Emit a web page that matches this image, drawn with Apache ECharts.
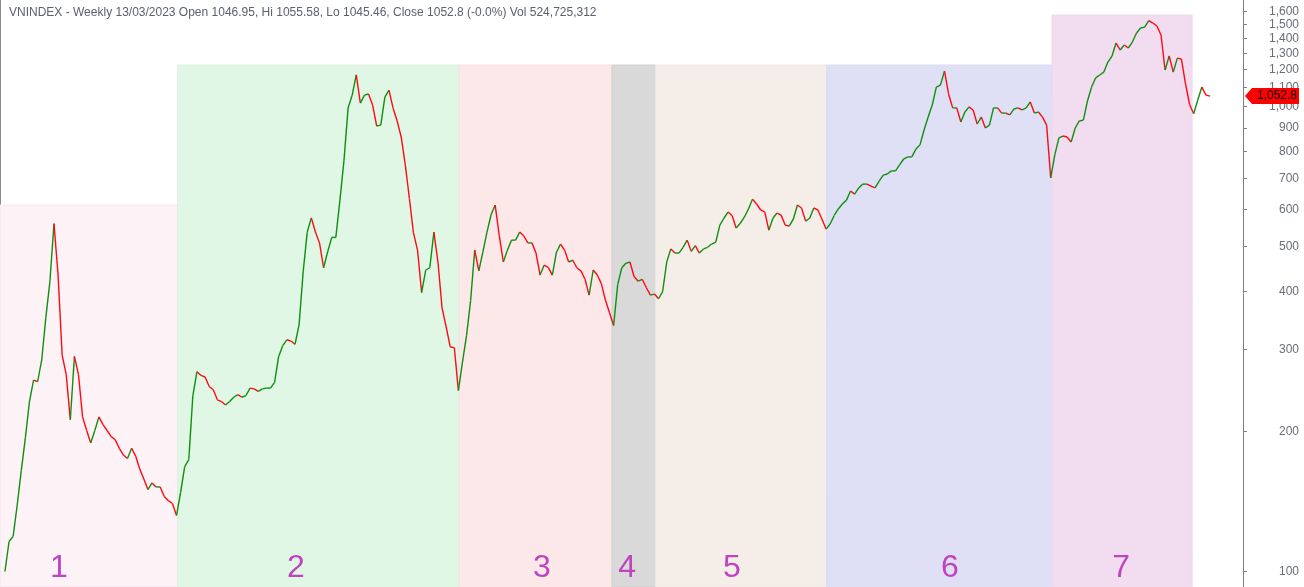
<!DOCTYPE html>
<html>
<head>
<meta charset="utf-8">
<title>VNINDEX weekly</title>
<script src="https://cdn.jsdelivr.net/npm/echarts@6/dist/echarts.min.js"></script>
<style>
	html, body { margin: 0; padding: 0; background: #fff; }
	#chart { width: 1304px; height: 587px; }
</style>
</head>
<body>
<div id="chart"></div>
<script>
// weekly closes, one point every 4 weeks, from 31/07/2000 to 13/03/2023
const startDate = '2000-07-31';
const stepDays = 28;
const closes = [
	100, 116, 119, 139, 165, 194, 232, 258, 256, 285,
	351, 420, 560, 434, 292, 265, 212, 290, 265, 215,
	201, 189, 201, 215, 207, 201, 195, 192, 184, 178,
	175, 184, 177, 166, 158, 150, 155, 152, 152, 145,
	142, 140, 132, 148, 168, 174, 239, 269, 264, 262,
	250, 246, 234, 232, 228, 232, 237, 240, 237, 239,
	248, 247, 244, 247, 248, 248, 255, 290, 306, 315,
	313, 308, 339, 441, 537, 576, 537, 509, 450, 487,
	523, 523, 629, 767, 993, 1058, 1170, 1017, 1058, 1064,
	1007, 908, 912, 1048, 1085, 993, 931, 860, 749, 635,
	535, 491, 398, 445, 450, 537, 463, 369, 336, 304,
	303, 245, 282, 322, 383, 491, 443, 487, 537, 585,
	614, 528, 463, 491, 516, 516, 537, 527, 509, 509,
	484, 434, 456, 451, 434, 486, 506, 491, 463, 467,
	450, 443, 425, 393, 445, 434, 416, 383, 360, 338,
	414, 450, 460, 463, 431, 421, 425, 408, 393, 395,
	386, 400, 463, 494, 484, 484, 498, 516, 488, 502,
	484, 494, 498, 506, 511, 556, 575, 593, 583, 548,
	561, 578, 602, 632, 617, 599, 593, 542, 575, 590,
	584, 556, 553, 573, 614, 605, 567, 575, 605, 599,
	573, 545, 559, 583, 602, 617, 629, 658, 648, 668,
	681, 681, 674, 668, 691, 712, 716, 727, 727, 749,
	771, 779, 779, 810, 827, 890, 949, 1007, 1101, 1112,
	1192, 1064, 993, 993, 926, 973, 998, 983, 917, 949,
	899, 912, 993, 993, 968, 968, 959, 988, 993, 983,
	993, 1023, 968, 973, 949, 912, 702, 787, 856, 864,
	860, 839, 899, 931, 935, 1028, 1101, 1152, 1169, 1186,
	1246, 1284, 1369, 1323, 1356, 1336, 1376, 1439, 1475, 1482,
	1530, 1512, 1490, 1425, 1198, 1284, 1186, 1271, 1265, 1118,
	1010, 965, 1033, 1101, 1058, 1052.8
];

// market phases
const zoneNames = ['1', '2', '3', '4', '5', '6', '7'];
const zoneStarts = ['2000-06-27', '2003-10-28', '2009-02-08', '2011-12-22', '2012-10-16', '2016-01-01', '2020-03-25'];
const zoneEnds = ['2003-10-28', '2009-02-08', '2011-12-22', '2012-10-16', '2016-01-01', '2020-03-25', '2022-11-10'];
const zoneTops = [614, 1228, 1228, 1228, 1228, 1228, 1573];
const zoneLabelDates = ['2001-08-05', '2006-01-16', '2010-08-29', '2012-04-03', '2014-03-23', '2018-04-25', '2021-07-11'];
const zoneColors = ['#fdf2f6', '#e1f7e6', '#fce7e9', '#d9d9d9', '#f5eee8', '#dfdff5', '#f1dcf0'];
const zoneBorders = ['#f3e4f2', '#dcefdf', '#f6e0e3', '#d0d0d0', '#eee7e1', '#dcdcf2', '#eed8ec'];

const yTicks = [100, 200, 300, 400, 500, 600, 700, 800, 900, 1000, 1100, 1200, 1300, 1400, 1500, 1600];
const yMin = 92.6;
const yMax = 1694.6;
const xMin = '2000-06-27';
const xMax = '2023-10-25';

const title = 'VNINDEX - Weekly 13/03/2023 Open 1046.95, Hi 1055.58, Lo 1045.46, Close 1052.8 (-0.0%) Vol 524,725,312';

const UP = '#0f8f0f';
const DOWN = '#ff0a14';
const DAY = 86400000;

const toTime = s => +new Date(s + 'T00:00:00');
const t0 = toTime(startDate);
const times = closes.map((c, i) => t0 + i * stepDays * DAY);
const lg = v => Math.log10(v);

const segments = [];
for (let i = 1; i < closes.length; i++) {
	segments.push([times[i - 1], lg(closes[i - 1]), times[i], lg(closes[i])]);
}

const zoneData = zoneNames.map((n, i) => [toTime(zoneStarts[i]), toTime(zoneEnds[i]), lg(zoneTops[i]), lg(yMin), i]);
const labelData = zoneNames.map((n, i) => [toTime(zoneLabelDates[i]), lg(yMin), i]);
const lastClose = closes[closes.length - 1];

const chart = echarts.init(document.getElementById('chart'));

chart.setOption({
	animation: false,
	title: {
		text: title,
		left: 4,
		top: 2,
		textStyle: {
			fontFamily: 'Liberation Sans, Arial, sans-serif',
			fontSize: 12,
			fontWeight: 'normal',
			color: '#5c6070'
		}
	},
	grid: {left: 0, right: 61, top: 0, bottom: 0},
	xAxis: {
		type: 'time',
		min: toTime(xMin),
		max: toTime(xMax),
		show: false
	},
	yAxis: [{
		type: 'value',
		position: 'right',
		min: lg(yMin),
		max: lg(yMax),
		splitLine: {show: false},
		axisLine: {show: true, lineStyle: {color: '#808080', width: 1}},
		axisTick: {
			show: true,
			length: 4,
			customValues: yTicks.map(lg),
			lineStyle: {color: '#808080'}
		},
		axisLabel: {
			customValues: yTicks.map(lg),
			margin: 56,
			align: 'right',
			fontFamily: 'Liberation Sans, Arial, sans-serif',
			fontSize: 12,
			color: '#6a6e7a',
			formatter: v => Math.round(Math.pow(10, v)).toLocaleString('en-US')
		}
	}, {
		type: 'value',
		position: 'left',
		min: lg(yMin),
		max: lg(yMax),
		splitLine: {show: false},
		axisLine: {show: true, lineStyle: {color: '#8a8a8a', width: 1}},
		axisTick: {show: false},
		axisLabel: {show: false}
	}],
	series: [{
		name: 'zones',
		type: 'custom',
		z: 1,
		silent: true,
		encode: {x: [0, 1], y: [2, 3]},
		data: zoneData,
		renderItem: (params, api) => {
			const p0 = api.coord([api.value(0), api.value(2)]);
			const p1 = api.coord([api.value(1), api.value(3)]);
			const k = api.value(4);
			return {
				type: 'rect',
				shape: {x: p0[0], y: p0[1], width: p1[0] - p0[0], height: p1[1] - p0[1]},
				style: {fill: zoneColors[k], stroke: zoneBorders[k], lineWidth: 1}
			};
		}
	}, {
		name: 'VNINDEX',
		type: 'custom',
		z: 3,
		silent: true,
		clip: false,
		encode: {x: [0, 2], y: [1, 3]},
		data: segments,
		renderItem: (params, api) => {
			const p0 = api.coord([api.value(0), api.value(1)]);
			const p1 = api.coord([api.value(2), api.value(3)]);
			return {
				type: 'line',
				shape: {x1: p0[0], y1: p0[1], x2: p1[0], y2: p1[1]},
				style: {stroke: api.value(3) >= api.value(1) ? UP : DOWN, lineWidth: 1.4}
			};
		}
	}, {
		name: 'phase labels',
		type: 'custom',
		z: 4,
		silent: true,
		encode: {x: 0, y: 1},
		data: labelData,
		renderItem: (params, api) => {
			const p = api.coord([api.value(0), api.value(1)]);
			const cs = params.coordSys;
			return {
				type: 'text',
				x: p[0],
				y: cs.y + cs.height - 19,
				style: {
					text: zoneNames[api.value(2)],
					fill: '#bf45c0',
					font: '32px "Liberation Sans", Arial, sans-serif',
					align: 'center',
					verticalAlign: 'middle'
				}
			};
		}
	}, {
		name: 'last',
		type: 'custom',
		z: 10,
		silent: true,
		clip: false,
		data: [[times[times.length - 1], lg(lastClose)]],
		renderItem: (params, api) => {
			const p = api.coord([api.value(0), api.value(1)]);
			const cs = params.coordSys;
			const x = cs.x + cs.width + 2;
			const y = p[1];
			return {
				type: 'group',
				children: [{
					type: 'polygon',
					shape: {points: [[x, y], [x + 7, y - 8], [x + 54, y - 8], [x + 54, y + 8], [x + 7, y + 8]]},
					style: {fill: '#ff0000'}
				}, {
					type: 'text',
					x: x + 52,
					y: y,
					style: {
						text: lastClose.toLocaleString('en-US', {minimumFractionDigits: 1}),
						fill: '#000',
						font: '12px "Liberation Sans", Arial, sans-serif',
						align: 'right',
						verticalAlign: 'middle'
					}
				}]
			};
		}
	}]
});
</script>
</body>
</html>
